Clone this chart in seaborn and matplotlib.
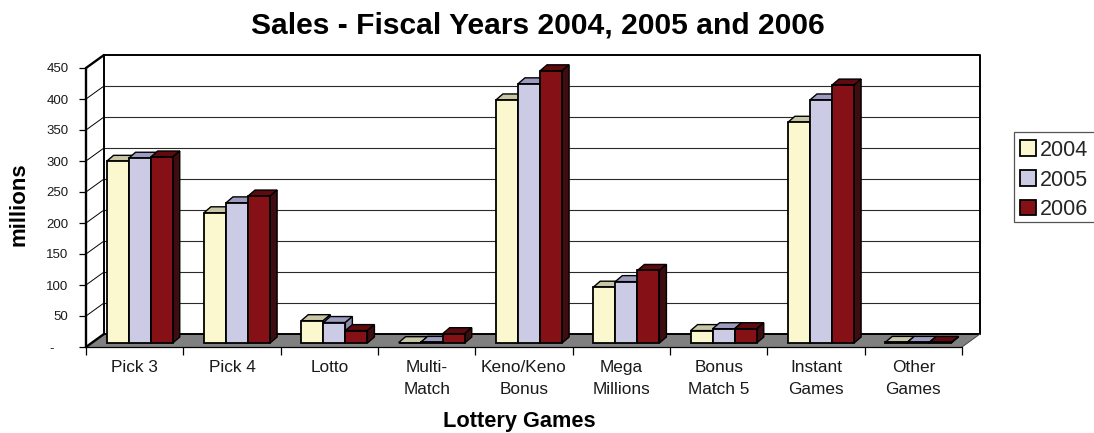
import matplotlib
matplotlib.use("Agg")
import matplotlib.pyplot as plt
from matplotlib.patches import Polygon, Patch, Rectangle
import pandas as pd
import seaborn as sns

games = ["Pick 3", "Pick 4", "Lotto", "Multi-\nMatch", "Keno/Keno\nBonus",
         "Mega\nMillions", "Bonus\nMatch 5", "Instant\nGames", "Other\nGames"]
years = ["2004", "2005", "2006"]
sales_2004 = [293, 210, 36, 0.5, 392, 90, 20, 356, 1]
sales_2005 = [298, 226, 33, 1, 418, 99, 23, 392, 1]
sales_2006 = [300, 237, 20, 15, 439, 117, 23, 416, 1]
y_ticks = [0, 50, 100, 150, 200, 250, 300, 350, 400, 450]
y_tick_labels = ["-    ", "50", "100", "150", "200", "250", "300", "350", "400", "450"]

front_colors = ["#FBF8D0", "#CCCBE6", "#851116"]
top_colors = ["#C8C6A4", "#9C9CC0", "#5E0A0E"]
side_colors = ["#B5B394", "#8E8EAE", "#3F0D10"]

sns.set_style("white")
plt.rcParams["font.family"] = ["Liberation Sans", "DejaVu Sans"]

W, H = 1094, 433
fig = plt.figure(figsize=(W / 100, H / 100), dpi=100)
ax = fig.add_axes([86 / W, (H - 347) / H, 876 / W, 279 / H])

df = pd.DataFrame({
    "game": games * 3,
    "year": sum([[y] * len(games) for y in years], []),
    "sales": sales_2004 + sales_2005 + sales_2006,
})
sns.barplot(data=df, x="game", y="sales", hue="year", palette=front_colors,
            saturation=1, width=0.68, edgecolor="black", linewidth=1.3,
            legend=False, ax=ax)
ax.set_xlim(-0.5, 8.5)
ax.set_ylim(0, 450)

# Pixel sizes expressed in data units, for the oblique projection
px_x = 9 / 876
px_y = 450 / 279
wall_dx, wall_dy = 18 * px_x, 13 * px_y
bar_dx, bar_dy = 5 * px_x, 4 * px_y
depth_dx, depth_dy = 7 * px_x, 6 * px_y

for side in ax.spines.values():
    side.set_visible(False)

# Back wall, floor and side wall
floor = Polygon([(-0.5, 0), (8.5, 0), (8.5 + wall_dx, wall_dy), (-0.5 + wall_dx, wall_dy)],
                closed=True, facecolor="#808080", edgecolor="none", zorder=1, clip_on=False)
ax.add_patch(floor)
for v in y_ticks[1:-1]:
    ax.plot([-0.5 + wall_dx, 8.5 + wall_dx], [v + wall_dy] * 2, color="#2a2a2a", lw=0.8,
            zorder=1, clip_on=False)
    ax.plot([-0.5, -0.5 + wall_dx], [v, v + wall_dy], color="black", lw=0.7, zorder=1, clip_on=False)
ax.plot([-0.5 + wall_dx, -0.5 + wall_dx, 8.5 + wall_dx, 8.5 + wall_dx],
        [wall_dy, 450 + wall_dy, 450 + wall_dy, wall_dy], color="black", lw=1.4, zorder=1, clip_on=False)
ax.plot([-0.5 + wall_dx, 8.5 + wall_dx], [wall_dy, wall_dy], color="black", lw=1.4, zorder=1, clip_on=False)
ax.plot([-0.5, -0.5 + wall_dx], [450, 450 + wall_dy], color="black", lw=1.7, zorder=2, clip_on=False)
ax.plot([-0.5, -0.5], [0, 450], color="black", lw=1.7, zorder=6, clip_on=False)
ax.plot([-0.5, 8.5], [0, 0], color="black", lw=0.9, zorder=6, clip_on=False)
ax.plot([-0.5, -0.5 + wall_dx], [0, wall_dy], color="black", lw=1.7, zorder=2, clip_on=False)
ax.plot([8.5, 8.5 + wall_dx], [0, wall_dy], color="#444444", lw=0.7, zorder=2, clip_on=False)

# Lift each bar onto the floor and give it a top and side face
for i, container in enumerate(ax.containers):
    for bar in container:
        x0 = bar.get_x() + bar_dx
        w = bar.get_width()
        h = bar.get_height()
        bar.set_x(x0)
        bar.set_y(bar_dy)
        bar.set_clip_on(False)
        top = bar_dy + h
        z = 3 + (x0 + 1) * 0.1
        bar.set_zorder(z + 0.02)
        ax.add_patch(Polygon([(x0, top), (x0 + w, top), (x0 + w + depth_dx, top + depth_dy),
                              (x0 + depth_dx, top + depth_dy)], closed=True,
                             facecolor=top_colors[i], edgecolor="black", lw=1.0, zorder=z, clip_on=False))
        ax.add_patch(Polygon([(x0 + w, bar_dy), (x0 + w + depth_dx, bar_dy + depth_dy),
                              (x0 + w + depth_dx, top + depth_dy), (x0 + w, top)], closed=True,
                             facecolor=side_colors[i], edgecolor="black", lw=1.0, zorder=z, clip_on=False))

# Axis ticks and labels
ax.set_yticks(y_ticks, y_tick_labels, fontsize=9.5, color="#1a1a1a")
ax.tick_params(axis="y", length=5, width=0.9, color="black", pad=7.5, left=True)
ax.set_xticks([i - 0.5 for i in range(len(games) + 1)], [""] * (len(games) + 1))
ax.set_xticks(range(len(games)), games, minor=True, fontsize=12.4, color="#1a1a1a",
              linespacing=1.55)
ax.tick_params(axis="x", which="major", length=6, width=0.9, color="black", bottom=True)
ax.tick_params(axis="x", which="minor", length=0, pad=9.7)

ax.set_xlabel("Lottery Games", fontsize=15.7, fontweight="bold", color="black", va="center")
ax.xaxis.set_label_coords((519 - 86) / 876, -(422 - 347) / 279, transform=ax.transAxes)
ax.set_ylabel("millions", fontsize=16, fontweight="bold", color="black", va="center")
ax.yaxis.set_label_coords((19 - 86) / 876, (347 - 204) / 279, transform=ax.transAxes)
ax.set_title("Sales - Fiscal Years 2004, 2005 and 2006", fontsize=21.6, fontweight="bold",
             color="black", x=(538 - 86) / 876, y=(347 - 11) / 279, va="top", pad=0)

# Legend frame runs past the right edge of the figure
fig.add_artist(Rectangle((1014 / W, (H - 222) / H), 100 / W, 90 / H, transform=fig.transFigure,
                         facecolor="white", edgecolor="#555555", lw=0.9, zorder=-1))
handles = [Patch(facecolor=c, edgecolor="black", lw=1.3) for c in front_colors]
ax.legend(handles, years, loc="center left", bbox_to_anchor=(1015 / W, (H - 180) / H),
          bbox_transform=fig.transFigure, fontsize=15.5, frameon=False, borderpad=0.22,
          labelspacing=0.40, handlelength=0.75, handleheight=0.75, handletextpad=0.2,
          borderaxespad=0)

fig.savefig("out.png", dpi=100, facecolor="white")
